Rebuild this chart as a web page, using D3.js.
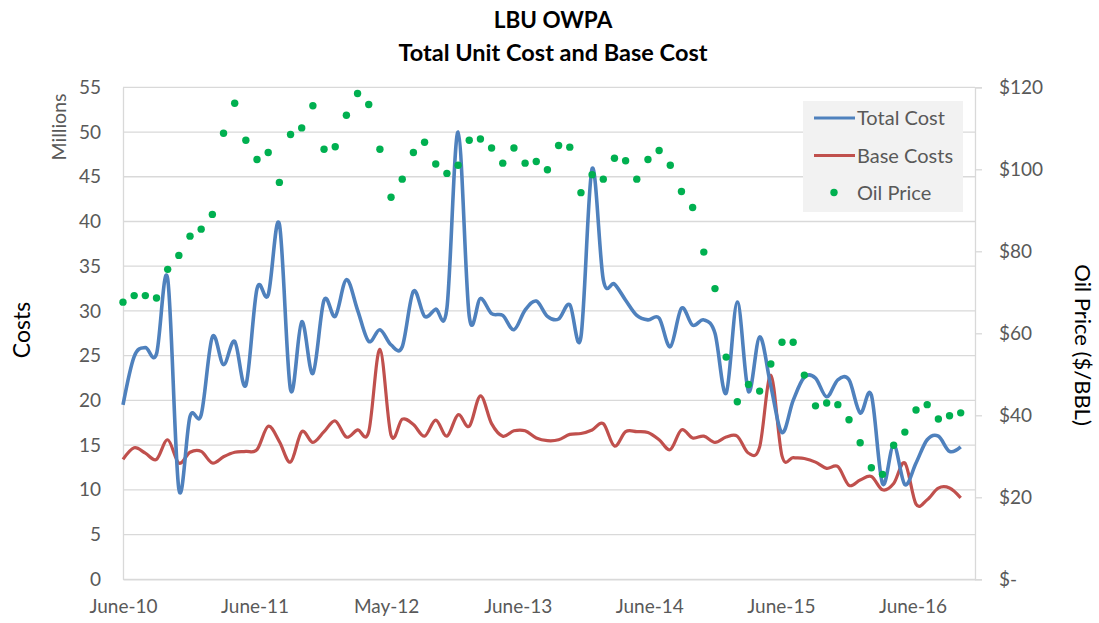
<!DOCTYPE html>
<html><head><meta charset="utf-8">
<script src="https://cdn.jsdelivr.net/npm/d3@7/dist/d3.min.js"></script>
<style>body{margin:0;background:#fff}svg{display:block}</style>
</head><body><svg id="c" width="1099" height="623"></svg>
<script>
// ---- data (millions / $ per BBL), monthly points ----
const totalCost = [19.5,24.9,25.9,25.2,33.6,10.1,18.2,18.4,27.1,24.0,
  26.6,21.7,32.5,31.8,39.7,21.2,28.8,23.0,31.2,29.4,
  33.5,30.1,26.6,27.9,26.2,26.0,32.2,29.4,30.2,30.3,
  50.0,29.4,31.4,29.7,29.5,27.9,30.1,31.1,29.4,29.1,
  30.7,27.1,45.9,33.5,33.0,31.2,29.5,29.0,29.2,26.0,
  30.3,28.4,29.0,27.5,20.8,31.0,21.0,27.1,21.6,16.4,
  20.0,22.6,22.5,20.4,22.3,22.3,18.6,20.6,10.7,15.0,
  10.6,13.0,15.6,16.0,14.3,14.8];
const baseCosts = [13.4,14.7,14.1,13.4,15.6,13.0,14.2,14.3,13.0,13.7,
  14.2,14.3,14.5,17.1,15.4,13.1,16.5,15.3,16.5,17.7,
  15.9,16.7,16.5,25.7,16.1,17.9,17.3,16.0,17.8,16.0,
  18.4,17.1,20.5,17.4,16.0,16.6,16.6,15.8,15.5,15.6,
  16.2,16.3,16.7,17.4,14.9,16.5,16.5,16.4,15.6,14.5,
  16.7,15.8,16.0,15.3,15.9,16.0,14.1,14.8,22.8,13.8,
  13.6,13.5,13.1,12.4,12.6,10.5,11.1,11.5,10.0,10.7,
  13.0,8.4,8.9,10.2,10.2,9.1];
const oilPrice = [67.6,69.2,69.2,68.6,75.6,79.0,83.7,85.4,89.0,108.8,
  116.1,107.1,102.4,104.1,96.8,108.5,110.1,115.5,104.9,105.5,
  113.2,118.5,115.8,104.9,93.2,97.6,104.1,106.6,101.3,99.0,
  101.0,107.1,107.4,105.2,101.5,105.2,101.5,101.9,99.9,105.8,
  105.4,94.3,98.7,97.6,102.7,102.1,97.6,102.4,104.6,101.0,
  94.6,90.7,79.8,70.9,54.2,43.3,47.5,45.9,52.5,57.8,
  57.8,49.8,42.3,43.0,42.6,38.9,33.3,27.2,25.6,32.7,
  35.9,41.3,42.6,39.1,39.9,40.6];
const xTickLabels = ["June-10","June-11","May-12","June-13","June-14","June-15","June-16"];
const xTickIndex = [0, 11.78, 23.56, 35.34, 47.12, 58.9, 70.68];
const costTicks = [0,5,10,15,20,25,30,35,40,45,50,55];
const oilTicks = [0,20,40,60,80,100,120];
const seriesNames = ["Total Cost","Base Costs","Oil Price"];

// ---- layout ----
const L = 123, R = 975, T = 87.3, B = 579.3;
const FONT = "Lato, 'Open Sans', sans-serif";
const grey = "#595959";
const svg = d3.select("#c");

const x = d3.scaleLinear().domain([0, 76.28]).range([L, R]);
const yC = d3.scaleLinear().domain([0, 55]).range([B, T]);
const yO = d3.scaleLinear().domain([0, 120]).range([B, T]);

// gridlines
svg.append("g").selectAll("line").data(costTicks).join("line")
  .attr("x1", L).attr("x2", R)
  .attr("y1", d => yC(d)).attr("y2", d => yC(d))
  .attr("stroke", "#d9d9d9").attr("stroke-width", 1.3);

// left axis
const gL = svg.append("g").attr("transform", `translate(${L},0)`)
  .call(d3.axisLeft(yC).tickValues(costTicks).tickSize(0).tickPadding(22));
gL.select(".domain").attr("stroke", "#d9d9d9").attr("stroke-width", 1.3);
gL.selectAll("text").attr("fill", grey).style("font-family", FONT).style("font-size", "19px");

// right axis
const gR = svg.append("g").attr("transform", `translate(${R},0)`)
  .call(d3.axisRight(yO).tickValues(oilTicks).tickSize(7).tickPadding(17)
    .tickFormat(d => d === 0 ? "$-" : "$" + d));
gR.select(".domain").attr("stroke", "#d9d9d9").attr("stroke-width", 1.3);
gR.selectAll(".tick line").attr("stroke", "#d9d9d9").attr("stroke-width", 1.3);
gR.selectAll("text").attr("fill", grey).style("font-family", FONT).style("font-size", "19px");

// bottom axis
const gB = svg.append("g").attr("transform", `translate(0,${B})`)
  .call(d3.axisBottom(x).tickValues(xTickIndex).tickSize(0).tickPadding(20)
    .tickFormat((d, i) => xTickLabels[i]));
gB.select(".domain").attr("stroke", "#d9d9d9").attr("stroke-width", 1.3);
gB.selectAll("text").attr("fill", grey).style("font-family", FONT).style("font-size", "19px");

// lines
const curve = d3.curveCardinal.tension(0);
const lineC = d3.line().x((d, i) => x(i)).y(d => yC(d)).curve(curve);
svg.append("path").datum(baseCosts).attr("d", lineC)
  .attr("fill", "none").attr("stroke", "#c0504d").attr("stroke-width", 3.2);
svg.append("path").datum(totalCost).attr("d", lineC)
  .attr("fill", "none").attr("stroke", "#4f81bd").attr("stroke-width", 3.6);

// oil price dots
svg.append("g").selectAll("circle").data(oilPrice).join("circle")
  .attr("cx", (d, i) => x(i)).attr("cy", d => yO(d)).attr("r", 3.7)
  .attr("fill", "#00b050");

// titles
svg.append("text").attr("x", 553).attr("y", 28).attr("text-anchor", "middle")
  .style("font-family", FONT).style("font-size", "22.5px").style("font-weight", "bold")
  .attr("fill", "#000").text("LBU OWPA");
svg.append("text").attr("x", 553).attr("y", 61).attr("text-anchor", "middle")
  .style("font-family", FONT).style("font-size", "23.5px").style("font-weight", "bold")
  .attr("fill", "#000").text("Total Unit Cost and Base Cost");

// axis titles
svg.append("text").attr("transform", "translate(30,330) rotate(-90)").attr("text-anchor", "middle")
  .style("font-family", FONT).style("font-size", "23px").attr("fill", "#000").text("Costs");
svg.append("text").attr("transform", "translate(66,127) rotate(-90)").attr("text-anchor", "middle")
  .style("font-family", FONT).style("font-size", "19.5px").attr("fill", grey).text("Millions");
svg.append("text").attr("transform", "translate(1075,345) rotate(90)").attr("text-anchor", "middle")
  .style("font-family", FONT).style("font-size", "22px").attr("fill", "#000").text("Oil Price ($/BBL)");

// legend
const lg = svg.append("g");
lg.append("rect").attr("x", 803).attr("y", 101).attr("width", 160).attr("height", 111).attr("fill", "#f2f2f2");
const rows = [118, 155.5, 192.5];
const colors = ["#4f81bd", "#c0504d", "#00b050"];
seriesNames.forEach((n, i) => {
  if (i < 2) {
    lg.append("line").attr("x1", 814).attr("x2", 855).attr("y1", rows[i]).attr("y2", rows[i])
      .attr("stroke", colors[i]).attr("stroke-width", 3);
  } else {
    lg.append("circle").attr("cx", 834).attr("cy", rows[i]).attr("r", 3.7).attr("fill", colors[i]);
  }
  lg.append("text").attr("x", 857).attr("y", rows[i]).attr("dy", "0.35em")
    .style("font-family", FONT).style("font-size", "20px").attr("fill", grey).text(n);
});
</script></body></html>
